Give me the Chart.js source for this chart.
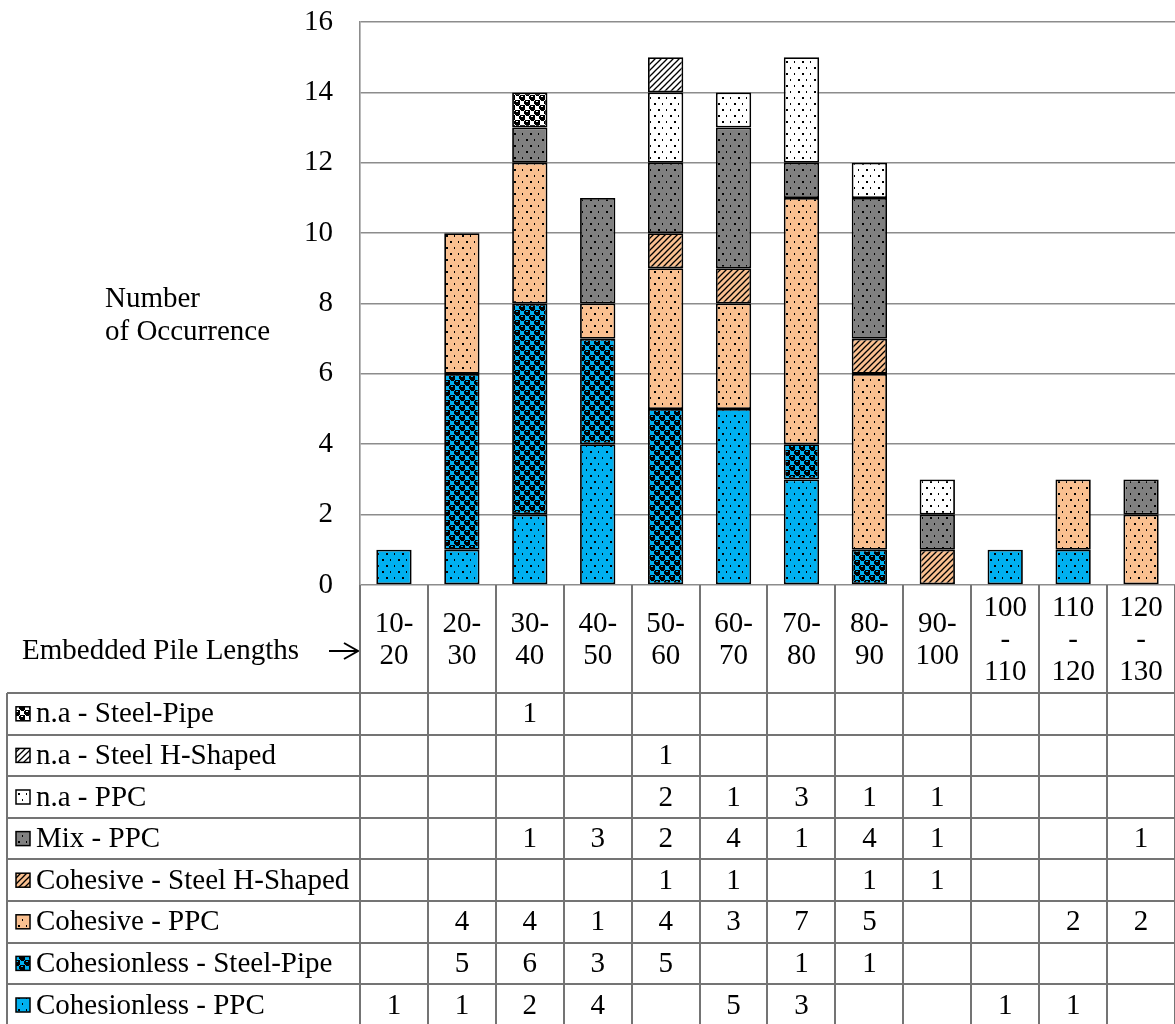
<!DOCTYPE html>
<html>
<head>
<meta charset="utf-8">
<script src="https://cdn.jsdelivr.net/npm/chart.js@4/dist/chart.umd.min.js"></script>
<style>
  html, body { margin: 0; padding: 0; background: #ffffff; }
  #wrap { width: 1175px; height: 1024px; position: relative; }
</style>
</head>
<body>
<div id="wrap"><canvas id="c" width="1175" height="1024"></canvas></div>
<script>
// ---------- DATA ----------
const categories = ['10-20','20-30','30-40','40-50','50-60','60-70','70-80','80-90','90-100','100-110','110-120','120-130'];
const categoryTickLines = [['10-','20'],['20-','30'],['30-','40'],['40-','50'],['50-','60'],['60-','70'],['70-','80'],['80-','90'],['90-','100'],['100','-','110'],['110','-','120'],['120','-','130']];
const yTicks = [0, 2, 4, 6, 8, 10, 12, 14, 16];

const cohesionlessPPC       = [1, 1, 2, 4, null, 5, 3, null, null, 1, 1, null];
const cohesionlessSteelPipe = [null, 5, 6, 3, 5, null, 1, 1, null, null, null, null];
const cohesivePPC           = [null, 4, 4, 1, 4, 3, 7, 5, null, null, 2, 2];
const cohesiveSteelH        = [null, null, null, null, 1, 1, null, 1, 1, null, null, null];
const mixPPC                = [null, null, 1, 3, 2, 4, 1, 4, 1, null, null, 1];
const naPPC                 = [null, null, null, null, 2, 1, 3, 1, 1, null, null, null];
const naSteelH              = [null, null, null, null, 1, null, null, null, null, null, null, null];
const naSteelPipe           = [null, null, 1, null, null, null, null, null, null, null, null, null];

const seriesNames = ['Cohesionless - PPC','Cohesionless - Steel-Pipe','Cohesive - PPC','Cohesive - Steel H-Shaped','Mix - PPC','n.a - PPC','n.a - Steel H-Shaped','n.a - Steel-Pipe'];
const seriesValues = [cohesionlessPPC, cohesionlessSteelPipe, cohesivePPC, cohesiveSteelH, mixPPC, naPPC, naSteelH, naSteelPipe];

const yAxisTitle = ['Number', 'of Occurrence'];
const xAxisTitle = 'Embedded Pile Lengths';

// ---------- STYLES ----------
const CYAN = '#00B0F0', ORANGE = '#FAC090', GRAY = '#808080', WHITE = '#FFFFFF';
const FONT = '"Liberation Serif", "Times New Roman", serif';
const FS = 29;

function tile(w, h, draw) {
  const c = document.createElement('canvas');
  c.width = w; c.height = h;
  const x = c.getContext('2d');
  draw(x);
  return x.createPattern(c, 'repeat');
}
function dots(bg) {
  return tile(16, 12, x => {
    x.fillStyle = bg; x.fillRect(0, 0, 16, 12);
    x.fillStyle = '#000';
    x.fillRect(2, 1, 2, 2);
    x.fillRect(10, 1, 1, 2);
    x.fillRect(6, 7, 1, 2);
    x.fillRect(14, 7, 2, 2);
  });
}
function sphere(bg) {
  return tile(10, 10, x => {
    x.fillStyle = bg; x.fillRect(0, 0, 10, 10);
    x.fillStyle = '#000';
    x.fillRect(5, 0, 5, 5); x.fillRect(0, 5, 5, 5);
    x.fillRect(4, 1, 1, 3); x.fillRect(9, 6, 1, 3);
    x.fillRect(6, 5, 3, 1); x.fillRect(1, 0, 3, 1);
    x.fillStyle = bg;
    x.fillRect(6, 1, 2, 1); x.fillRect(1, 6, 2, 1);
  });
}
function diag(bg) {
  return tile(6, 6, x => {
    x.fillStyle = bg; x.fillRect(0, 0, 6, 6);
    x.strokeStyle = '#000'; x.lineWidth = 1.3;
    for (const o of [-6, 0, 6]) {
      x.beginPath(); x.moveTo(o - 1, 7); x.lineTo(o + 7, -1); x.stroke();
    }
  });
}
const fills = [dots(CYAN), sphere(CYAN), dots(ORANGE), diag(ORANGE), dots(GRAY), dots(WHITE), diag(WHITE), sphere(WHITE)];

// ---------- PLUGIN: titles & data table ----------
const tablePlugin = {
  id: 'tablePlugin',
  afterDraw(chart) {
    const ctx = chart.ctx;
    const xs = chart.scales.x;
    const ys = chart.scales.y;
    const n = categories.length;
    const half = (xs.getPixelForValue(1) - xs.getPixelForValue(0)) / 2;
    const top = ys.getPixelForValue(0);
    const headerBottom = 693;
    const rowH = 41.6;
    const tableLeft = 7;
    const nRows = seriesNames.length;
    const tableBottom = headerBottom + rowH * nRows;
    ctx.save();

    // y axis title
    ctx.fillStyle = '#000';
    ctx.font = FS + 'px ' + FONT;
    ctx.textAlign = 'left';
    ctx.textBaseline = 'middle';
    ctx.fillText(yAxisTitle[0], 105, 299);
    ctx.fillText(yAxisTitle[1], 105, 332);

    // x title + arrow
    ctx.fillText(xAxisTitle, 22, 651);
    ctx.strokeStyle = '#000'; ctx.lineWidth = 2;
    ctx.beginPath(); ctx.moveTo(329, 651); ctx.lineTo(357, 651); ctx.stroke();
    ctx.beginPath(); ctx.moveTo(344, 643); ctx.lineTo(358, 651); ctx.lineTo(344, 659); ctx.stroke();

    // grid lines of table
    ctx.strokeStyle = '#747474'; ctx.lineWidth = 2;
    for (let i = 0; i <= n; i++) {
      const px = Math.round(xs.getPixelForValue(i) - half);
      ctx.beginPath(); ctx.moveTo(px, top); ctx.lineTo(px, tableBottom); ctx.stroke();
    }
    for (let r = 0; r <= nRows; r++) {
      const py = Math.round(headerBottom + r * rowH);
      ctx.beginPath(); ctx.moveTo(tableLeft, py); ctx.lineTo(chart.width, py); ctx.stroke();
    }
    ctx.beginPath(); ctx.moveTo(tableLeft, headerBottom); ctx.lineTo(tableLeft, tableBottom); ctx.stroke();

    // header labels
    ctx.fillStyle = '#000';
    ctx.textAlign = 'center';
    const hc = (top + headerBottom) / 2 + 1;
    categoryTickLines.forEach((lines, i) => {
      const cx = xs.getPixelForValue(i);
      const lh = 32;
      const start = hc - (lines.length - 1) * lh / 2;
      lines.forEach((t, k) => ctx.fillText(t, cx, start + k * lh));
    });

    // rows (top row = last dataset)
    for (let r = 0; r < nRows; r++) {
      const di = nRows - 1 - r;
      const cy = headerBottom + r * rowH + rowH / 2;
      ctx.fillStyle = fills[di];
      ctx.fillRect(16, cy - 7, 14, 14);
      ctx.strokeStyle = '#000'; ctx.lineWidth = 1.5;
      ctx.strokeRect(16, cy - 7, 14, 14);
      ctx.fillStyle = '#000';
      ctx.textAlign = 'left';
      ctx.fillText(seriesNames[di], 36, cy + 1);
      ctx.textAlign = 'center';
      seriesValues[di].forEach((v, i) => {
        if (v !== null) ctx.fillText(String(v), xs.getPixelForValue(i), cy + 1);
      });
    }
    ctx.restore();
  }
};

// ---------- CHART ----------
new Chart(document.getElementById('c'), {
  type: 'bar',
  data: {
    labels: categories,
    datasets: seriesValues.map((vals, i) => ({
      label: seriesNames[i],
      data: vals,
      backgroundColor: fills[i],
      borderColor: '#000',
      borderWidth: 1.8,
      borderSkipped: false,
      categoryPercentage: 1,
      barPercentage: 0.52
    }))
  },
  options: {
    responsive: false,
    animation: false,
    layout: { padding: { left: 0, right: 0, top: 22, bottom: 439 } },
    plugins: { legend: { display: false }, tooltip: { enabled: false }, title: { display: false } },
    scales: {
      x: { stacked: true, display: false },
      y: {
        stacked: true,
        min: 0, max: 16,
        afterFit(scale) { scale.width = 360; scale.paddingTop = 0; scale.paddingBottom = 0; },
        afterBuildTicks(scale) { scale.ticks = yTicks.map(v => ({ value: v })); },
        ticks: { font: { family: FONT, size: FS }, color: '#000', padding: 27 },
        grid: { color: '#8c8c8c', lineWidth: 1.6, drawTicks: false },
        border: { display: true, color: '#8c8c8c', width: 1.6 }
      }
    }
  },
  plugins: [tablePlugin]
});
</script>
</body>
</html>
